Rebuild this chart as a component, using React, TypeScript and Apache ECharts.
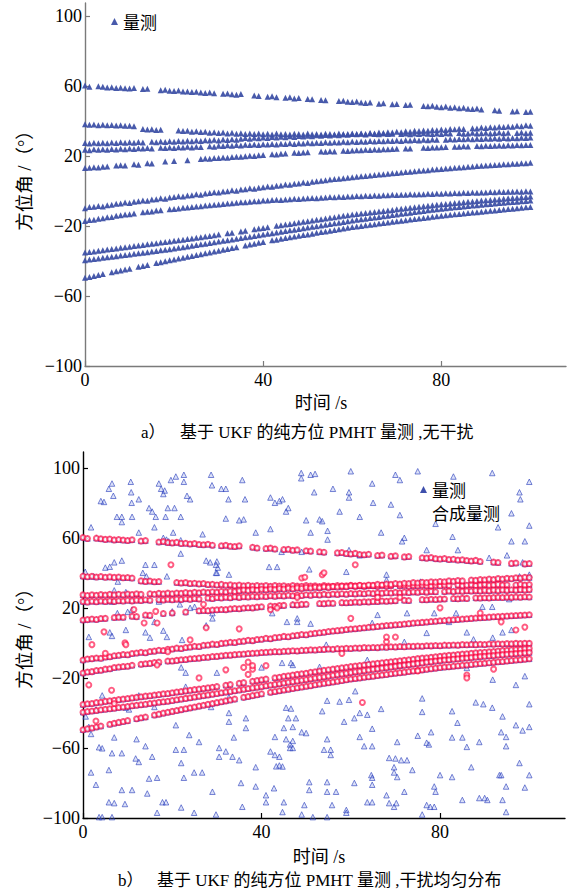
import React, { useEffect, useRef } from "react";
import * as echarts from "echarts";

// Sampling step of the bearing measurements (s); index i of a track = time i*TIME_STEP
const TIME_STEP = 1;

// Bearing (deg) of each target track, one value per second, null = missed detection
const TRACK_A = [60.2,59.6,null,59.8,59.5,59.1,59.3,58.8,59.0,58.7,58.5,58.9,null,58.2,58.4,null,null,57.6,57.9,57.3,57.1,57.4,56.8,56.9,56.5,56.7,56.2,56.0,56.3,55.8,null,55.5,55.7,55.2,55.0,55.4,null,null,54.6,54.2,null,53.9,54.1,53.6,null,53.3,53.5,52.9,53.1,null,52.6,52.4,null,52.0,51.8,null,null,51.4,51.6,51.0,50.8,51.1,50.5,50.3,50.6,null,49.9,50.1,null,49.5,49.7,null,49.1,49.3,null,null,48.6,48.4,48.7,48.1,47.9,48.2,47.6,47.8,47.3,47.5,47.0,46.8,47.1,46.5,null,null,46.1,45.9,null,null,45.4,45.6,null,45.1,45.3];
const TRACK_B = [38.1,37.8,38.0,37.6,37.9,37.5,37.7,37.4,37.6,37.2,37.3,37.0,null,35.4,35.1,35.3,34.9,35.0,null,null,null,34.5,34.2,34.4,33.9,34.1,33.7,33.9,33.3,33.5,33.1,33.4,32.9,33.2,32.7,33.0,32.6,32.9,32.5,32.8,32.4,32.7,32.3,32.8,32.4,32.6,32.2,32.7,32.5,32.3,32.8,32.4,32.6,32.2,32.7,32.5,32.3,32.8,32.4,32.6,32.9,32.5,32.7,32.3,32.8,32.6,32.4,32.9,32.5,32.7,null,32.6,32.9,32.4,32.8,32.6,33.0,32.7,32.5,32.9,32.6,33.0,32.8,null,33.1,32.7,32.9,33.2,32.8,33.0,33.3,32.9,33.1,33.4,33.0,33.2,null,33.1,33.4,33.0,33.3];
const TRACK_C = [27.4,27.1,27.5,27.2,27.6,27.3,27.7,27.4,27.8,27.5,27.9,27.6,28.0,27.7,null,28.1,27.8,28.3,28.0,28.4,28.1,28.5,28.3,28.7,28.4,28.9,28.6,29.0,28.8,29.2,28.9,29.4,29.1,29.6,29.3,29.8,30.2,29.9,30.4,30.1,30.6,30.3,30.8,30.5,31.0,30.7,31.2,30.9,31.4,31.1,31.6,31.3,31.8,31.5,32.0,31.7,32.2,31.9,32.4,32.1,32.6,32.4,32.9,32.6,33.1,32.9,33.4,33.1,33.6,33.4,33.9,33.6,34.1,33.9,34.4,34.2,34.6,34.4,34.9,34.7,35.1,34.9,35.4,35.2,35.6,35.4,null,35.9,35.7,36.2,36.0,36.4,36.2,36.7,36.5,36.9,36.7,37.2,37.0,37.5,37.3];
const TRACK_D = [23.6,23.3,23.8,23.5,23.9,23.6,24.0,23.7,24.1,23.9,24.3,24.0,24.4,24.2,24.6,24.3,null,24.7,24.5,24.9,24.6,25.0,24.8,25.2,24.9,25.3,25.1,null,25.6,25.3,25.9,25.7,26.1,25.8,26.3,26.0,26.4,26.2,26.6,26.3,26.7,26.5,26.9,26.6,27.0,26.8,27.2,26.9,27.3,27.1,27.5,27.2,27.6,27.4,27.8,27.5,27.9,27.7,28.1,27.8,28.2,28.0,28.3,28.1,28.5,28.2,28.6,28.4,28.7,28.5,28.9,28.6,29.0,28.8,29.1,28.9,29.3,29.0,29.4,29.2,null,29.3,29.6,29.4,29.7,29.5,29.8,29.6,29.9,29.7,30.0,29.8,30.1,29.9,30.2,30.0,30.3,30.1,30.4,30.2,30.5];
const TRACK_E = [13.1,13.3,13.6,13.4,13.9,14.0,null,14.5,14.7,14.6,null,15.2,15.0,null,15.9,15.7,null,null,16.8,null,17.1,null,null,17.6,null,null,18.3,18.5,18.4,18.8,18.9,19.1,19.0,19.4,19.6,19.5,19.9,20.1,20.0,20.4,20.6,null,21.0,20.9,21.3,21.4,null,21.8,21.7,22.0,22.1,null,null,22.5,22.4,22.7,22.6,null,23.0,22.9,23.1,23.3,23.2,23.5,23.4,23.7,23.6,23.9,23.8,24.0,24.1,null,24.3,24.2,null,null,24.7,24.6,24.9,24.8,25.0,25.1,null,25.3,25.2,25.5,25.4,null,25.7,25.6,25.8,25.7,25.9,26.0,25.9,26.1,26.0,26.2,26.1,26.3,26.2];
const TRACK_F = [-9.8,-9.2,-9.0,-8.6,-8.8,-8.1,-7.9,-7.3,-7.1,-6.6,-6.8,-6.1,-5.8,-5.4,-5.6,-4.9,-4.7,-4.2,-4.4,-3.7,-3.5,-3.0,-3.2,-2.6,-2.4,-1.9,-2.1,-1.4,-1.2,-0.7,-0.9,-0.3,-0.1,0.4,0.2,0.8,1.0,1.5,1.3,1.9,2.1,2.6,2.4,3.0,3.2,3.7,3.5,4.1,4.3,4.8,4.6,5.2,5.5,5.8,6.1,6.5,6.8,7.0,7.3,7.6,7.9,8.1,8.4,8.6,8.9,9.1,9.4,9.6,9.9,10.1,10.3,10.5,10.8,11.0,11.3,11.5,11.7,11.9,12.2,12.4,12.6,12.8,13.0,13.2,13.4,13.6,13.8,14.0,14.2,14.4,14.5,14.7,14.9,15.0,15.2,15.3,15.5,15.6,15.8,15.9,16.1];
const TRACK_G = [-17.2,-16.6,-16.4,-15.8,-15.6,-15.0,-14.8,-14.1,-13.8,-13.5,-13.3,-12.8,null,-12.2,-11.9,-11.7,-11.2,-11.0,null,-10.4,-10.3,-10.0,-9.6,-9.5,-9.1,-8.9,-8.7,-8.3,-8.2,-7.8,-7.7,-7.4,-7.1,-7.0,-6.7,-6.5,-6.4,-6.1,-5.9,-5.8,-5.5,-5.4,-5.2,-5.0,-5.1,-4.8,-4.7,-4.5,-4.6,-4.3,-4.2,-4.0,-4.1,-3.8,-3.7,-3.5,-3.6,-3.3,-3.4,-3.1,-3.2,-2.9,-3.0,-2.7,-2.8,-2.6,-2.7,-2.4,-2.5,-2.2,-2.3,-2.1,-2.2,-1.9,-2.0,-1.8,-1.9,-1.6,-1.7,-1.5,-1.6,-1.3,-1.4,-1.2,-1.3,-1.0,-1.1,-0.9,-1.0,-0.8,-0.9,-0.6,-0.7,-0.5,-0.6,-0.4,-0.5,-0.3,-0.4,-0.2,-0.3];
const TRACK_H = [-35.2,-34.8,-34.6,-34.1,-33.9,-33.4,-33.1,-32.8,-32.4,-32.1,-31.8,-31.4,-31.1,-30.8,-30.4,-30.2,-29.8,-29.5,-29.1,-28.9,-28.5,-28.1,-27.8,-27.4,-27.1,-26.7,-26.4,-26.0,-25.7,-25.3,-24.9,null,-24.2,-23.8,null,-23.1,-22.7,null,-21.9,-21.5,-21.1,-20.7,null,-19.9,-19.6,-19.1,-18.8,-18.4,-18.0,-17.6,-17.3,-16.8,-16.5,-16.1,-15.7,-15.3,-15.0,-14.6,-14.2,-13.9,-13.5,-13.2,-12.9,-12.6,-12.3,-12.0,-11.7,-11.4,-11.1,-10.8,-10.5,-10.2,-9.9,-9.6,-9.3,-9.0,-8.7,-8.5,-8.2,-7.9,-7.6,-7.4,-7.1,-6.9,-6.7,-6.4,-6.2,-6.0,-5.7,-5.5,-5.3,-5.1,-4.9,-4.7,-4.4,-4.2,-4.0,-3.8,-3.6,-3.4,-3.2];
const TRACK_I = [-39.6,-39.2,-38.9,-38.6,-38.2,-37.9,-37.6,-37.3,-36.9,-36.6,-36.3,-35.9,-35.6,-35.3,-35.0,-34.6,-34.3,-33.9,-33.6,-33.3,-32.9,-32.5,-32.1,-31.7,-31.3,-30.9,-30.5,-30.1,-29.7,-29.3,-28.9,-28.5,-28.1,-27.7,-27.3,-26.9,-26.5,-26.1,-25.7,-25.3,-24.9,-24.5,-24.1,-23.7,-23.3,-22.9,-22.5,-22.1,-21.7,-21.3,-20.9,-20.5,-20.1,-19.7,-19.3,-18.9,-18.5,-18.1,-17.7,-17.3,-16.9,-16.5,-16.2,-15.8,-15.5,-15.1,-14.8,-14.4,-14.1,-13.7,-13.4,-13.0,-12.7,-12.4,-12.0,-11.7,-11.4,-11.0,-10.7,-10.4,-10.1,-9.8,-9.6,-9.3,-9.1,-8.8,-8.6,-8.3,-8.1,-7.8,-7.6,-7.4,-7.2,-6.9,-6.7,-6.5,-6.3,-6.1,-5.9,-5.7,-5.5];
const TRACK_J = [-49.6,-49.1,-48.6,-48.0,-47.5,null,-46.5,-45.9,-45.4,-44.9,-44.4,null,-43.3,-42.8,-42.3,null,-41.2,-40.7,-40.1,-39.6,-39.1,-38.6,-38.1,-37.6,-37.1,-36.6,-36.1,-35.6,-35.1,-34.6,-34.1,-33.6,-33.1,-32.6,-32.1,null,-31.1,-30.6,-30.1,-29.6,-29.1,null,-28.2,-27.8,-27.3,-26.9,-26.5,-26.0,-25.6,-25.2,-24.8,-24.4,-23.9,-23.5,-23.1,-22.7,-22.3,-21.9,-21.5,-21.0,-20.6,-20.3,-20.0,-19.6,-19.3,-19.0,-18.6,-18.3,-18.0,-17.6,-17.3,-17.0,-16.7,-16.3,-16.0,-15.7,-15.4,-15.1,-14.7,-14.4,-14.1,-13.8,-13.6,-13.3,-13.1,-12.8,-12.6,-12.3,-12.1,-11.8,-11.6,-11.3,-11.1,-10.8,-10.6,-10.3,-10.1,-9.8,-9.6,-9.3,-9.1];

// Uniform clutter measurements of panel b: [time s, bearing deg]
const CLUTTER = [
[1.8,66],[0.5,40.6],[2.4,38],[4,81],[4.7,80.5],[5.8,88],[6.5,91],[6.8,84],[7.6,72],[8.7,72],[8.7,69],[10.7,92],[10.8,86],[10.9,80],[11,72],[12.5,63],[5,43],[6,43.5],[7,46],[8.7,47],[7,30],[7.8,35],[12.5,82],[14.8,77],[15.5,75],[17,91],[17.5,88],[18,85],[18.3,87],[18.5,72],[16.3,72],[16,66],[14,44.6],[13.4,40],[14.2,38],[19.7,93],[20.8,95],[22.6,96],[22.6,92],[23.3,84],[24,82],[19,77],[20.5,77],[21.9,72],[20.2,63],[18,60],[18.7,59],[19.2,58],[21.9,58.6],[21.9,51],[28.7,96],[28.9,90],[31,88],[32,88],[32.6,82],[35.7,93],[36.3,82],[32,71],[35,70],[36,70.5],[38.7,63],[42,65],[26.8,62],[27.6,47],[28.5,46],[30,46.5],[30.2,43],[30,40],[25,20.6],[29,17],[29,14],[42,83],[43,80],[44,81],[44.7,82],[46,77],[41.7,43.4],[43.5,43.4],[1.3,3.4],[9.6,7.4],[6,6],[6.5,4],[7.7,17],[14,6],[15,3],[18,7],[16,12],[21.7,22],[24,20],[27.6,10],
[48.9,97],[48.9,94],[51,96],[52,96.5],[64.8,91],[70,96],[71,93],[91.7,97],[100,92],[51.8,86],[59.6,86],[59.6,83],[45.5,75],[50,70],[53,70.5],[53.6,69.5],[57.5,75],[69,79],[71,73],[82.8,60.6],[97.8,86],[98,82],[51,63],[54.8,64],[54.8,59],[66.8,63],[72,60],[71.5,58],[77,53],[84,53],[96,58],[99,58],[59.6,53],[62,50],[44.5,52],[49,52],[91,48.6],[95,50],[98.5,46],[97.8,38],[59,40.6],[68,39],[68,36],[75.6,35],[50.7,42],[47,22],[48,12],[51,11],[66,16],[72.6,17],[78.7,17],[83.6,17],[89.5,20.6],[91.7,20.6],[82,12],[54.5,-1],[72,0.6],[63.7,-9.7],
[60,98],[75,98],[83,95],[62,72],[65,80],[56,88],[100,67],[96,74],[79,68],[88,72],[93,66],
[0.6,-42],[1.8,-52],[3.6,-59.6],[4.3,-60.2],[7,-54],[6.5,-63],[8.7,-63],[12,-55],[14,-59],[15.5,-65],[11.8,-66],[12.5,-68],[1.8,-74],[5.8,-72.6],[2.9,-81],[14.8,-77.5],[16.6,-77],[8.7,-84],[11,-84],[14.4,-86],[5.8,-91],[7,-91.5],[9.4,-92],[17.8,-91],[18.6,-91],[22,-94],[16.6,-97],[3.6,-99.5],[4.3,-99.5],[6.5,-99.5],[20.8,-47],[20.8,-61],[22.6,-61],[23.8,-52.6],[26,-56.6],[22,-68.6],[24.9,-74],[26.7,-74],[22.6,-77],[24.9,-97],[29.8,-98],[29,-85],[30.5,-60],[32,-62],[30.5,-65],[33.5,-65],[35,-67],[32.7,-45],[32.7,-40],[33.8,-54],[36.5,-43],[36.5,-48.6],[35.4,-80],[35.7,-93.6],[38.7,-71],[38.7,-82],[41,-87],[41,-91],[42.8,-83],[42,-62],[43,-64],[44,-65],[44,-70],[43.3,-70.5],[45.5,-55],[47,-60],[47,-56],[43,-53.7],[46,-43],[47,-48],[32.7,-31],[22,-14],[23,-17],[30,-17],[28.7,-36.6],[16,-36.6],[9.6,-37],[10.3,-38],[12.5,-30],[23,-25],[2.9,-38],[1.3,-48],[4.3,-30],
[47,-12.6],[53,-13.7],[71,-12.6],[86,-14.3],[91.8,-21],[97,-24],[99,-19],[45.5,-37],[46.6,-37.5],[53.6,-39],[54.7,-33],[57.5,-33.5],[59.6,-32.5],[61,-27.6],[62,-40],[66.8,-37.7],[58.5,-45],[47.7,-43],[45,-48.6],[49,-51],[50,-51.5],[54.7,-55],[54,-61],[55.5,-61],[55.5,-64],[46.4,-58],[46.4,-60],[62,-53.7],[63,-59],[64.8,-59],[64.8,-49],[60.8,-43],[63.7,-41],[70.4,-56.6],[76,-31.7],[76,-39.4],[78,-51],[75,-53],[77,-57],[77.5,-58],[82.7,-39],[83.9,-45.6],[82.7,-54],[85,-54],[86,-59.4],[88,-34],[89.7,-35],[91.7,-37],[88.8,-56.6],[94,-42],[93.7,-51],[94.8,-53.7],[94.8,-59],[97,-47],[98.5,-50],[100,-48],[100,-35],[68.6,-65.7],[70,-66],[71.3,-67],[72.6,-67],[73.8,-72.6],[69.7,-71],[69.7,-74],[70.4,-76.6],[87,-71],[80,-75.5],[82.7,-76.6],[93.3,-75.5],[93.7,-75.5],[97.8,-68.6],[100,-75.5],[78.7,-82],[79,-85],[72,-85],[68,-87],[64.6,-75.5],[64.8,-77],[64.8,-81],[60.8,-80],[63.7,-91],[64.8,-91],[68.6,-91.5],[69.7,-93.6],[70.2,-91.5],[77,-92.6],[77.8,-93.6],[78.7,-93.6],[76,-98],[85,-89.7],[88.8,-88.6],[90,-88.6],[90.6,-89.7],[94,-89.7],[94.8,-82],[99,-82.6],[94.8,-96.6],[59,-95.4],[59,-97],[49,-98],[51.5,-99.5],[54.7,-99.5],[54.7,-85],[56.7,-85],[50.7,-79.5],[50.7,-84],[54.7,-79.5],[45,-91],[49.6,-92.6],[55.8,-92.6],[44.7,-70.6],[44.7,-96.6],
[64.8,11.4],[77,5.7],[86,6],[91.8,3],[94,6],[96,7.4],[87.5,2],[95.5,25],[100,39],
[16,44.6],[18.8,38],[29.8,40],[29.8,44.6],[32.7,39],[6.5,23.6],[9.6,29],[17,23.6],[10,17.7],[11,19],[20,18],[42.4,17],[45.7,12],[48,14],[18.8,3.4],[22.2,1.7],[44.6,-11.4],[46.6,-11.4],[40,-14]
];

// Composite measurements of panel b lying off the tracks: [time s, bearing deg]
const STRAY_COMPOSITE = [
[19.7,44.6],[11.4,19],[13.7,11.4],[9.4,0],[4.7,6.3],[9.6,-1],[16.3,18],[16.6,11.4],[24,1.7],[27.6,8.6],[32,-15.4],[36,-14],[38,-15],[37,-18],[42,19],[43.5,20],[1.3,-24],[6.4,-27],[7,-34.6],[48,26],[53.6,38.9],[66,26],[71,26],[68,0.6],[68,3.4],[70,3.4],[86,-18.3],[86,-20],[89,17],[93.7,12],[97,7.4],[99,9],[62.6,-34],[2.9,-44.6],[26,-20],[16.6,-12.6],[37,-11],[38,-13],[41,-13],[61,44.6],[54,40],[49,37],[49.7,37.5],[2,-1],[5,-6],[19,-5],[35,8],[58,-6],[75,-16],[80,20],[92,-15],[60,14],[27,22]
];

const X_TICKS = [0, 40, 80];
const Y_TICKS = [-100, -60, -20, 20, 60, 100];

const TRACKS = [TRACK_A, TRACK_B, TRACK_C, TRACK_D, TRACK_E, TRACK_F, TRACK_G, TRACK_H, TRACK_I, TRACK_J];

function trackPoints(): number[][] {
  const pts: number[][] = [];
  TRACKS.forEach((tr) =>
    tr.forEach((v, i) => {
      if (v !== null) pts.push([i * TIME_STEP, v as number]);
    })
  );
  return pts;
}

const SERIF = "Liberation Serif";
const MIXED = "Liberation Serif, Noto Sans CJK SC";
const CJK = "Noto Sans CJK SC";

const fmtY = (v: number) => (v < 0 ? "\u2212" + Math.abs(v) : String(v));

function axes(grid: number, color: string, ymax: number) {
  const line = { show: true, onZero: false, lineStyle: { color, width: 1.4 } };
  return {
    x: {
      gridIndex: grid,
      type: "value",
      min: 0,
      max: 108,
      axisLine: line,
      axisTick: { show: true, inside: true, length: 5, customValues: X_TICKS, lineStyle: { color, width: 1.2 } },
      axisLabel: { customValues: X_TICKS, color: "#000", fontSize: 18, fontFamily: SERIF, margin: 5 },
      splitLine: { show: false },
    },
    y: {
      gridIndex: grid,
      type: "value",
      min: -100,
      max: ymax,
      axisLine: line,
      axisTick: { show: true, inside: true, length: 5, customValues: Y_TICKS, lineStyle: { color, width: 1.2 } },
      axisLabel: { customValues: Y_TICKS, color: "#000", fontSize: 18, fontFamily: SERIF, margin: 3, formatter: fmtY },
      splitLine: { show: false },
    },
  };
}

export default function App() {
  const ref = useRef<HTMLDivElement>(null);
  useEffect(() => {
    if (!ref.current) return;
    const chart = echarts.init(ref.current, undefined, { renderer: "svg" });
    const tp = trackPoints();
    const a0 = axes(0, "#7a7a7a", 107.4);
    const a1 = axes(1, "#000", 109);
    const blueTop = { color: "#3e51a6", opacity: 0.95 };
    const blueBottom = { color: "rgba(110,130,225,0.3)", borderColor: "rgba(45,65,190,0.8)", borderWidth: 1 };
    const red = { color: "rgba(255,0,60,0.8)", borderColor: "rgba(255,0,60,0.8)", borderWidth: 1 };
    chart.setOption({
      animation: false,
      backgroundColor: "#fff",
      grid: [
        { left: 85, top: 3, width: 481, height: 363 },
        { left: 83, top: 452, width: 482, height: 366 },
      ],
      xAxis: [a0.x, a1.x],
      yAxis: [a0.y, a1.y],
      legend: [
        {
          left: 111, top: 13, padding: 0, itemWidth: 7, itemHeight: 7, selectedMode: false,
          textStyle: { fontSize: 17, fontFamily: CJK, color: "#000" },
          data: [{ name: "量测", icon: "triangle", itemStyle: { color: "#3e51a6" } }],
        },
        {
          left: 419, top: 481, padding: 0, orient: "vertical", itemGap: 6, itemWidth: 7, itemHeight: 7, selectedMode: false,
          textStyle: { fontSize: 17, fontFamily: CJK, color: "#000" },
          data: [
            { name: "量测", icon: "triangle", itemStyle: { color: "#3446a8", borderWidth: 0 } },
            { name: "合成量测", icon: "emptyCircle", itemStyle: { color: "#fff", borderColor: "rgba(255,40,80,0.8)", borderWidth: 1 } },
          ],
        },
      ],
      series: [
        { name: "量测", type: "scatter", xAxisIndex: 0, yAxisIndex: 0, symbol: "triangle", symbolSize: 6, itemStyle: blueTop, data: tp },
        { name: "量测", type: "scatter", xAxisIndex: 1, yAxisIndex: 1, symbol: "triangle", symbolSize: 5.5, itemStyle: blueBottom, data: [...tp, ...CLUTTER] },
        { name: "合成量测", type: "scatter", xAxisIndex: 1, yAxisIndex: 1, symbol: "emptyCircle", symbolSize: 5, itemStyle: red, data: [...tp, ...STRAY_COMPOSITE] },
      ],
      graphic: [
        { type: "text", x: 25, y: 176, rotation: Math.PI / 2, style: { text: "方位角 /（°）", fontSize: 18.5, fontFamily: MIXED, fill: "#000", textAlign: "center", textVerticalAlign: "middle" } },
        { type: "text", x: 25, y: 634, rotation: Math.PI / 2, style: { text: "方位角 /（°）", fontSize: 18.5, fontFamily: MIXED, fill: "#000", textAlign: "center", textVerticalAlign: "middle" } },
        { type: "text", x: 321, y: 403, style: { text: "时间 /s", fontSize: 18, fontFamily: MIXED, fill: "#000", textAlign: "center", textVerticalAlign: "middle" } },
        { type: "text", x: 319, y: 857, style: { text: "时间 /s", fontSize: 18, fontFamily: MIXED, fill: "#000", textAlign: "center", textVerticalAlign: "middle" } },
        { type: "text", x: 141, y: 432, style: { text: "a）", fontSize: 17, fontFamily: MIXED, fill: "#000", textAlign: "left", textVerticalAlign: "middle" } },
        { type: "text", x: 180, y: 432, style: { text: "基于 UKF 的纯方位 PMHT 量测 ,无干扰", fontSize: 17, fontFamily: MIXED, fill: "#000", textAlign: "left", textVerticalAlign: "middle" } },
        { type: "text", x: 118, y: 880, style: { text: "b）", fontSize: 17, fontFamily: MIXED, fill: "#000", textAlign: "left", textVerticalAlign: "middle" } },
        { type: "text", x: 157, y: 880, style: { text: "基于 UKF 的纯方位 PMHT 量测 ,干扰均匀分布", fontSize: 17, fontFamily: MIXED, fill: "#000", textAlign: "left", textVerticalAlign: "middle" } },
      ],
    });
    return () => chart.dispose();
  }, []);
  return <div ref={ref} style={{ position: "absolute", left: 0, top: 0, width: 577, height: 893 }} />;
}
